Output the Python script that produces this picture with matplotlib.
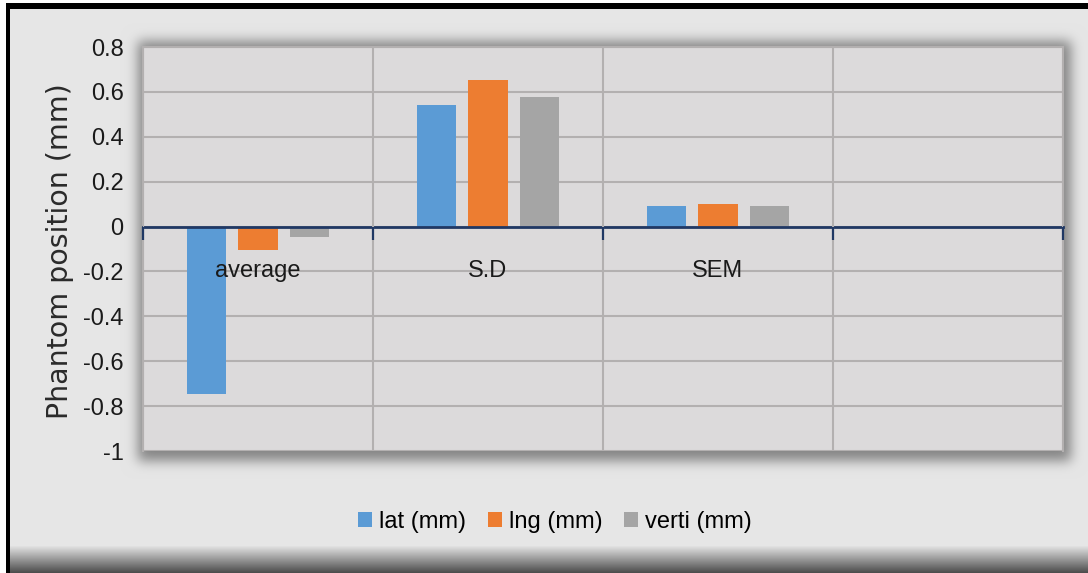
import numpy as np
import matplotlib
matplotlib.use("Agg")
import matplotlib.pyplot as plt
from matplotlib import font_manager

# ---- data ----
categories = ["average", "S.D", "SEM", ""]
series_names = ["lat (mm)", "lng (mm)", "verti (mm)"]
lat_vals = [-0.745, 0.54, 0.09, np.nan]
lng_vals = [-0.105, 0.655, 0.10, np.nan]
verti_vals = [-0.045, 0.578, 0.09, np.nan]
ytick_values = [-1, -0.8, -0.6, -0.4, -0.2, 0, 0.2, 0.4, 0.6, 0.8]
ytick_labels = ["-1", "-0.8", "-0.6", "-0.4", "-0.2", "0", "0.2", "0.4", "0.6", "0.8"]
y_title = "Phantom position (mm)"

colors = ["#5b9bd5", "#ed7d31", "#a5a5a5"]

available = {f.name for f in font_manager.fontManager.ttflist}
narrow = "Liberation Sans Narrow" if "Liberation Sans Narrow" in available else "Liberation Sans"
plt.rcParams["font.family"] = [narrow, "DejaVu Sans"]
text_c = "#1a1a1a"

W, H = 1088, 573
fig = plt.figure(figsize=(W / 100, H / 100), dpi=100)

# ---- background panel: border, fill, drop shadow under the plot area ----
bg = np.full((H, W), 0.902)
ax_l, ax_r, ax_t, ax_b = 143, 1063, 47, 451


def blur(a, sigma):
    r = int(3 * sigma)
    k = np.exp(-0.5 * (np.arange(-r, r + 1) / sigma) ** 2)
    k /= k.sum()
    a = np.apply_along_axis(lambda v: np.convolve(np.pad(v, r, mode="edge"), k, mode="valid"), 0, a)
    a = np.apply_along_axis(lambda v: np.convolve(np.pad(v, r, mode="edge"), k, mode="valid"), 1, a)
    return a


mask = np.zeros((H, W))
mask[ax_t - 6:ax_b + 10, ax_l - 5:ax_r + 8] = 1.0
shadow = blur(mask, 6.0)
bg = bg * (1 - 0.42 * shadow)

# darker band along the bottom edge
rows = np.arange(H)
grad = np.clip((rows - 545) / (H - 545), 0, 1)[:, None]
bg = bg * (1 - grad) + 0.28 * grad

img = np.repeat(bg[:, :, None], 3, axis=2)
img[:3, :, :] = 1.0
img[:, :6, :] = 1.0
img[3:9, 6:, :] = 0.0
img[3:, 6:10, :] = 0.0

bax = fig.add_axes([0, 0, 1, 1], zorder=-10)
bax.imshow(img, aspect="auto", extent=(0, W, H, 0), interpolation="bilinear")
bax.set_axis_off()

# ---- main plot ----
ax = fig.add_axes([ax_l / W, 1 - ax_b / H, (ax_r - ax_l) / W, (ax_b - ax_t) / H], zorder=1)
ax.set_facecolor("#dcdadb")

x = np.arange(len(categories))
bar_w = 0.17
offsets = [-0.222, 0.0, 0.222]
for vals, name, c, off in zip([lat_vals, lng_vals, verti_vals], series_names, colors, offsets):
    ax.bar(x + off, vals, bar_w, color=c, label=name, zorder=1)

ax.set_xlim(-0.5, len(categories) - 0.5)
ax.set_ylim(-1, 0.8)

grid_c = "#b3b0b0"
ax.set_axisbelow(True)
ax.set_yticks(ytick_values)
ax.set_yticklabels(ytick_labels)
ax.tick_params(axis="y", length=0, pad=14, labelsize=17, labelcolor=text_c)

ax.set_xticks(np.arange(len(categories) + 1) - 0.5)
ax.set_xticklabels([""] * (len(categories) + 1))
ax.tick_params(axis="x", which="major", direction="out", length=9, width=1.6, color="#203864")
ax.set_xticks(x, minor=True)
ax.set_xticklabels(categories, minor=True)
ax.tick_params(axis="x", which="minor", length=0, pad=24, labelsize=17, labelcolor=text_c)

ax.grid(True, which="major", color=grid_c, lw=1.5)
# category labels sit on top of the bars; horizontal grid stays underneath
ax.xaxis.set_zorder(3)

for side in ["left", "right", "top"]:
    ax.spines[side].set_color(grid_c)
    ax.spines[side].set_linewidth(1.5)
ax.spines["bottom"].set_position(("data", 0))
ax.spines["bottom"].set_color("#203864")
ax.spines["bottom"].set_linewidth(2.0)

ax.set_ylabel(y_title, fontsize=20.5, family="DejaVu Sans", color="#2a2a2a")
ax.yaxis.set_label_coords(-0.075, 0.495)

fig.legend(loc="center", bbox_to_anchor=(555 / W, 1 - 522 / H), ncol=3, frameon=False,
           prop={"size": 17},
           handlelength=0.6, handleheight=0.6, handletextpad=0.3, columnspacing=0.9)

fig.savefig("out.png", dpi=100)
